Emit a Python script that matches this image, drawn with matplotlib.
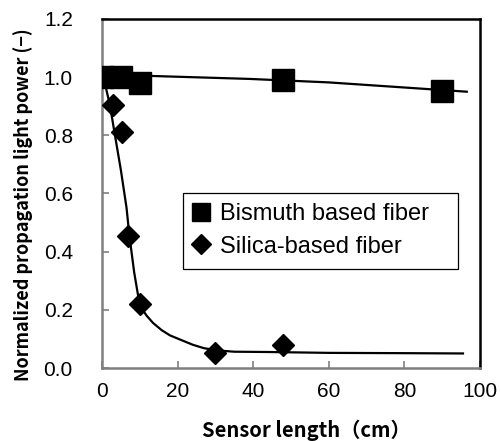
import numpy as np
import matplotlib
matplotlib.use("Agg")
import matplotlib.pyplot as plt
from matplotlib.patches import Rectangle

# measured points
bi_len = [0, 5, 10, 48, 90]
bi_power = [1.0, 1.0, 0.98, 0.99, 0.953]
si_len = [0, 3, 5.2, 7, 10, 30, 48]
si_power = [1.0, 0.904, 0.81, 0.454, 0.22, 0.05, 0.08]

# trend curves
bi_fit_len = [0, 13.5, 39, 60, 96.5]
bi_fit_power = [1.008, 1.004, 0.994, 0.982, 0.950]
si_fit_len = [0, 1, 2.1, 3.3, 5, 6.5, 7.2, 8.5, 9.6, 10.5, 11.8, 13.5, 15.8,
              18, 21, 24, 27, 31, 35, 44, 60, 80, 95.5]
si_fit_power = [1.0, 0.965, 0.904, 0.81, 0.68, 0.55, 0.46, 0.33, 0.245, 0.205,
                0.18, 0.155, 0.13, 0.112, 0.096, 0.08, 0.068, 0.06, 0.056,
                0.055, 0.052, 0.051, 0.05]

x_ticks = [0, 20, 40, 60, 80, 100]
y_ticks = [0.0, 0.2, 0.4, 0.6, 0.8, 1.0, 1.2]

W, H = 502, 441
fig = plt.figure(figsize=(W / 100, H / 100), dpi=100)
ax = fig.add_axes([102 / W, 1 - 368 / H, (480 - 102) / W, (368 - 19) / H])

ax.plot(bi_fit_len, bi_fit_power, color="black", lw=1.6, zorder=2)
ax.plot(si_fit_len, si_fit_power, color="black", lw=1.6, zorder=2)
ax.plot(bi_len, bi_power, "s", color="black", ms=16, ls="none",
        label="Bismuth based fiber", zorder=3)
ax.plot(si_len, si_power, "D", color="black", ms=11.4, ls="none",
        label="Silica-based fiber", zorder=3)

ax.set_xlim(0, 100)
ax.set_ylim(0, 1.2)
ax.set_xticks(x_ticks)
ax.set_yticks(y_ticks)
ax.set_yticklabels([f"{v:.1f}" for v in y_ticks])

for lab in ax.get_xticklabels() + ax.get_yticklabels():
    lab.set_fontfamily("Liberation Sans")
    lab.set_fontsize(15)
ax.tick_params(axis="x", direction="in", length=5, width=1.2, color="#808080", pad=10)
ax.tick_params(axis="y", direction="in", length=5, width=1.2, color="#808080", pad=21)

for side in ("left", "bottom"):
    ax.spines[side].set_color("#7f7f7f")
    ax.spines[side].set_linewidth(1.8)
for side in ("top", "right"):
    ax.spines[side].set_color("black")
    ax.spines[side].set_linewidth(1.8)

label_font = ["Noto Sans CJK JP", "DejaVu Sans"]
fig.text(306 / W, 1 - 430 / H, "Sensor length（cm）", family=label_font,
         fontweight="bold", fontsize=14.5, ha="center", va="center")
fig.text(23 / W, 1 - 205 / H, "Normalized propagation light power (−)",
         family=label_font, fontweight="bold", fontsize=13, rotation=90,
         ha="center", va="center")

# legend box drawn separately so it can be wider than its entries
box = Rectangle((183 / W, 1 - 269 / H), (458 - 183) / W, (269 - 193) / H,
                transform=fig.transFigure, facecolor="white",
                edgecolor="black", lw=0.9, zorder=4, clip_on=False)
ax.add_patch(box)
leg = ax.legend(loc="upper left", bbox_to_anchor=(190 / W, 1 - 203 / H),
                bbox_transform=fig.transFigure, borderaxespad=0,
                prop={"family": "Liberation Sans", "size": 17},
                frameon=False, markerscale=0.85, handlelength=0.9,
                handletextpad=0.35, labelspacing=0.45, borderpad=0)
leg.set_zorder(5)

fig.savefig("out.png", dpi=100)
